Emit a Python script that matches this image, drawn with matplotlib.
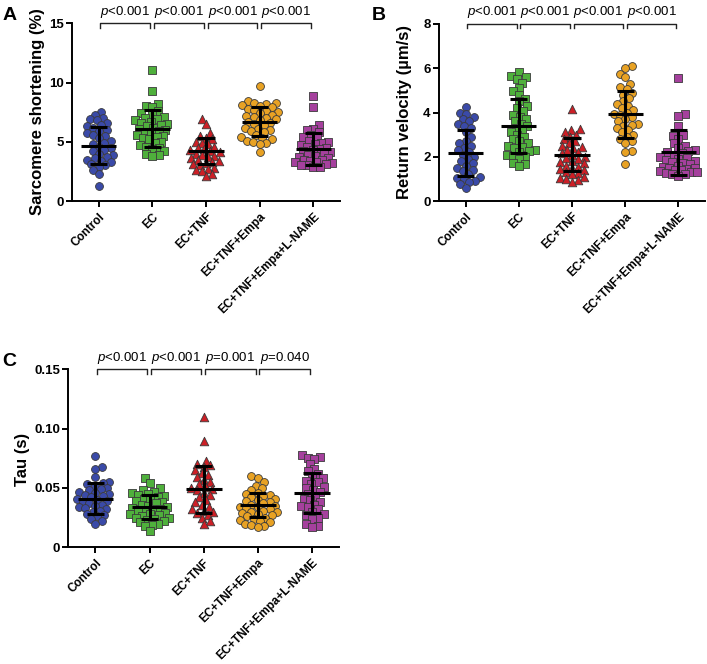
import numpy as np
import matplotlib
matplotlib.use("Agg")
import matplotlib.pyplot as plt

plt.rcParams['font.family'] = ['Liberation Sans', 'DejaVu Sans']
plt.rcParams['mathtext.fontset'] = 'custom'
plt.rcParams['mathtext.it'] = 'Liberation Sans:italic'
plt.rcParams['mathtext.rm'] = 'Liberation Sans'

categories = ["Control", "EC", "EC+TNF", "EC+TNF+Empa", "EC+TNF+Empa+L-NAME"]
colors = ["#3a4aa8", "#4fb03c", "#cc1f26", "#e8a224", "#a5409d"]
markers = ["o", "s", "^", "o", "s"]

# Panel A: sarcomere shortening (%)
A_control = [7.5, 7.3, 7.0, 6.9, 6.8, 6.6, 6.4, 6.3, 6.2, 6.0, 5.9, 5.7, 5.6, 5.5, 5.3, 5.1, 4.9, 4.8,
             4.6, 4.5, 4.3, 4.2, 4.0, 3.9, 3.7, 3.6, 3.5, 3.4, 3.3, 3.1, 3.0, 2.9, 2.6, 2.3, 1.3]
A_ec = [11.1, 9.3, 8.2, 8.0, 7.9, 7.6, 7.4, 7.3, 7.1, 7.0, 6.9, 6.8, 6.7, 6.6, 6.5, 6.4, 6.3, 6.2, 6.1,
        6.0, 5.9, 5.8, 5.7, 5.6, 5.5, 5.4, 5.3, 5.2, 5.0, 4.9, 4.7, 4.6, 4.5, 4.4, 4.2, 4.0, 3.9, 3.8]
A_tnf = [6.9, 6.5, 5.7, 5.5, 5.3, 5.2, 5.0, 4.9, 4.8, 4.6, 4.5, 4.4, 4.3, 4.2, 4.1, 4.0, 3.9, 3.8, 3.7,
         3.6, 3.5, 3.4, 3.3, 3.2, 3.1, 3.0, 2.8, 2.7, 2.6, 2.5, 2.3, 2.1]
A_empa = [9.7, 8.4, 8.3, 8.3, 8.2, 8.1, 8.0, 7.9, 7.8, 7.7, 7.6, 7.5, 7.4, 7.3, 7.2, 7.1, 7.0, 6.9, 6.8,
          6.7, 6.6, 6.5, 6.4, 6.2, 6.1, 6.0, 5.9, 5.8, 5.6, 5.4, 5.3, 5.2, 5.1, 5.0, 4.9, 4.8, 4.1]
A_lname = [8.9, 7.9, 6.4, 6.1, 6.0, 5.8, 5.6, 5.4, 5.3, 5.1, 5.0, 4.9, 4.8, 4.7, 4.6, 4.5, 4.4, 4.3, 4.2,
           4.1, 4.0, 3.9, 3.8, 3.7, 3.6, 3.5, 3.5, 3.4, 3.3, 3.3, 3.2, 3.1, 3.0, 3.0, 2.9, 2.9]
A_mean = [4.67, 6.10, 4.22, 6.69, 4.39]
A_sd = [1.58, 1.55, 1.11, 1.21, 1.35]
A_p = ["$\\it{p}$<0.001", "$\\it{p}$<0.001", "$\\it{p}$<0.001", "$\\it{p}$<0.001"]

# Panel B: return velocity (um/s)
B_control = [4.25, 4.0, 3.95, 3.8, 3.7, 3.6, 3.5, 3.4, 3.3, 3.1, 2.9, 2.7, 2.6, 2.5, 2.4, 2.3, 2.2, 2.1,
             2.0, 1.9, 1.8, 1.7, 1.6, 1.5, 1.4, 1.35, 1.2, 1.1, 1.05, 1.0, 0.9, 0.85, 0.75, 0.6]
B_ec = [5.85, 5.65, 5.6, 5.5, 5.35, 5.1, 4.95, 4.8, 4.6, 4.5, 4.3, 4.2, 4.05, 3.9, 3.8, 3.7, 3.6, 3.5,
        3.4, 3.3, 3.2, 3.1, 3.0, 2.9, 2.8, 2.7, 2.6, 2.5, 2.45, 2.4, 2.3, 2.25, 2.2, 2.1, 2.05, 2.0,
        1.9, 1.7, 1.65, 1.6]
B_tnf = [4.15, 3.25, 3.2, 3.1, 3.0, 2.9, 2.8, 2.7, 2.6, 2.5, 2.45, 2.4, 2.3, 2.2, 2.15, 2.1, 2.0, 1.95,
         1.9, 1.8, 1.75, 1.7, 1.6, 1.55, 1.5, 1.45, 1.4, 1.3, 1.25, 1.2, 1.1, 1.05, 1.0, 0.95, 0.85]
B_empa = [6.1, 6.0, 5.75, 5.6, 5.3, 5.15, 5.05, 4.9, 4.8, 4.65, 4.5, 4.4, 4.3, 4.2, 4.1, 4.0, 3.95, 3.9,
          3.8, 3.7, 3.6, 3.5, 3.45, 3.4, 3.3, 3.2, 3.1, 3.0, 2.9, 2.8, 2.7, 2.6, 2.25, 2.2, 1.65]
B_lname = [5.55, 3.95, 3.85, 3.4, 3.0, 2.95, 2.8, 2.6, 2.5, 2.4, 2.3, 2.25, 2.2, 2.15, 2.1, 2.0, 1.95,
           1.9, 1.85, 1.8, 1.75, 1.7, 1.65, 1.6, 1.55, 1.5, 1.5, 1.45, 1.4, 1.4, 1.35, 1.3, 1.3, 1.25,
           1.2, 1.2, 1.15]
B_mean = [2.16, 3.41, 2.10, 3.92, 2.20]
B_sd = [1.05, 1.22, 0.75, 1.07, 1.02]
B_p = ["$\\it{p}$<0.001", "$\\it{p}$<0.001", "$\\it{p}$<0.001", "$\\it{p}$<0.001"]

# Panel C: tau (s)
C_control = [0.077, 0.068, 0.066, 0.059, 0.055, 0.054, 0.053, 0.052, 0.050, 0.049, 0.048, 0.047, 0.046,
             0.045, 0.044, 0.043, 0.042, 0.041, 0.040, 0.039, 0.038, 0.037, 0.036, 0.035, 0.034, 0.033,
             0.032, 0.031, 0.030, 0.028, 0.027, 0.026, 0.024, 0.022, 0.020]
C_ec = [0.058, 0.054, 0.050, 0.048, 0.047, 0.046, 0.045, 0.044, 0.043, 0.042, 0.041, 0.040, 0.039,
        0.038, 0.037, 0.036, 0.035, 0.034, 0.033, 0.032, 0.032, 0.031, 0.030, 0.029, 0.028, 0.028,
        0.027, 0.026, 0.025, 0.025, 0.024, 0.023, 0.022, 0.021, 0.020, 0.019, 0.018, 0.014]
C_tnf = [0.110, 0.090, 0.073, 0.070, 0.069, 0.068, 0.065, 0.063, 0.061, 0.059, 0.057, 0.055, 0.053,
         0.051, 0.050, 0.049, 0.048, 0.046, 0.044, 0.042, 0.040, 0.038, 0.036, 0.034, 0.032, 0.031,
         0.030, 0.029, 0.027, 0.025, 0.022, 0.020]
C_empa = [0.060, 0.058, 0.055, 0.052, 0.050, 0.048, 0.046, 0.045, 0.044, 0.043, 0.042, 0.041, 0.040,
          0.039, 0.038, 0.037, 0.036, 0.035, 0.034, 0.034, 0.033, 0.032, 0.031, 0.030, 0.030, 0.029,
          0.028, 0.027, 0.026, 0.025, 0.024, 0.023, 0.022, 0.021, 0.020, 0.019, 0.018, 0.017]
C_lname = [0.078, 0.076, 0.075, 0.074, 0.070, 0.066, 0.064, 0.062, 0.060, 0.058, 0.056, 0.055, 0.053,
           0.051, 0.050, 0.048, 0.047, 0.045, 0.043, 0.041, 0.040, 0.038, 0.036, 0.035, 0.034, 0.032,
           0.030, 0.028, 0.027, 0.025, 0.024, 0.020, 0.018, 0.017]
C_mean = [0.0410, 0.0340, 0.0489, 0.0357, 0.0455]
C_sd = [0.0131, 0.0103, 0.0198, 0.0101, 0.0167]
C_p = ["$\\it{p}$<0.001", "$\\it{p}$<0.001", "$\\it{p}$=0.001", "$\\it{p}$=0.040"]

W, H = 707, 664
fig = plt.figure(figsize=(W / 100, H / 100), dpi=100)


def px_axes(l, t, r, b):
    return fig.add_axes([l / W, 1 - b / H, (r - l) / W, (b - t) / H])


def swarm_offsets(ypx, d=6.2, maxw=20.0):
    # simple beeswarm: each point goes to the free spot nearest the centre line
    order = np.argsort(ypx)
    placed_x, placed_y = [], []
    xs = np.zeros(len(ypx))
    step = 0.7
    cands = [0.0]
    k = 1
    while k * step <= maxw:
        cands += [k * step, -k * step] if k % 2 else [-k * step, k * step]
        k += 1
    for i in order:
        y = ypx[i]
        best, bestscore, bestc = None, -1, 0.0
        px_ = np.array(placed_x)
        py_ = np.array(placed_y)
        for c in cands:
            dist = np.min(np.hypot(px_ - c, py_ - y)) if len(px_) else 1e9
            if dist >= d:
                best = c
                break
            if dist > bestscore:
                bestscore, bestc = dist, c
        if best is None:
            best = bestc
        xs[i] = best
        placed_x.append(best)
        placed_y.append(y)
    return xs


def panel(ax, groups, means, sds, ylim, yticks, yticklabels, pvals):
    ax.set_xlim(-0.5, 4.5)
    ax.set_ylim(*ylim)
    for s in ["top", "right"]:
        ax.spines[s].set_visible(False)
    for s in ["left", "bottom"]:
        ax.spines[s].set_linewidth(1.4)
    ax.set_yticks(yticks)
    ax.set_yticklabels(yticklabels, fontsize=9.5, fontweight="bold")
    ax.set_xticks(range(len(categories)))
    ax.set_xticklabels(categories, rotation=45, ha="right", rotation_mode="anchor",
                       fontsize=8.5, fontweight="bold")
    ax.tick_params(axis="both", direction="out", length=4, width=1.4, pad=2)
    ax.tick_params(axis="x", pad=3)
    xppu = ax.transData.transform((1, 0))[0] - ax.transData.transform((0, 0))[0]
    for i, vals in enumerate(groups):
        vals = np.asarray(vals, dtype=float)
        ypx = ax.transData.transform(np.column_stack([np.zeros_like(vals), vals]))[:, 1]
        off = swarm_offsets(ypx) / xppu
        ax.scatter(i + off, vals, s=32 if markers[i] != "^" else 38, marker=markers[i],
                   facecolor=colors[i], edgecolor="#3a3a3a", linewidth=0.6, zorder=3, clip_on=False)
        m, sd = means[i], sds[i]
        ax.plot([i - 0.33, i + 0.33], [m, m], color="black", lw=2.2, zorder=4, solid_capstyle="butt")
        ax.plot([i, i], [m - sd, m + sd], color="black", lw=2.2, zorder=4)
        for yy in (m - sd, m + sd):
            ax.plot([i - 0.16, i + 0.16], [yy, yy], color="black", lw=2.2, zorder=4,
                    solid_capstyle="butt")
    tr = ax.get_xaxis_transform()
    for j, p in enumerate(pvals):
        x0, x1 = j + 0.03, j + 0.96
        ax.plot([x0, x0, x1, x1], [0.975, 1.0, 1.0, 0.975], color="#222222", lw=1.0,
                transform=tr, clip_on=False)
        ax.text((x0 + x1) / 2, 1.065, p, transform=tr, ha="center", va="center", fontsize=9.5)


axA = px_axes(72, 23.3, 340, 201)
panel(axA, [A_control, A_ec, A_tnf, A_empa, A_lname], A_mean, A_sd, (0, 15), [0, 5, 10, 15],
      ["0", "5", "10", "15"], A_p)
axB = px_axes(439, 24, 705, 201)
panel(axB, [B_control, B_ec, B_tnf, B_empa, B_lname], B_mean, B_sd, (0, 8), [0, 2, 4, 6, 8],
      ["0", "2", "4", "6", "8"], B_p)
axC = px_axes(68.3, 369.3, 339, 547.3)
panel(axC, [C_control, C_ec, C_tnf, C_empa, C_lname], C_mean, C_sd, (0, 0.15),
      [0, 0.05, 0.10, 0.15], ["0", "0.05", "0.10", "0.15"], C_p)


def ftext(x, y, s, **kw):
    fig.text(x / W, 1 - y / H, s, **kw)


ftext(38, 112, "Sarcomere shortening (%)", rotation=90, ha="center", va="center", fontsize=12,
      fontweight="bold")
ftext(404, 112, "Return velocity (µm/s)", rotation=90, ha="center", va="center", fontsize=12,
      fontweight="bold")
ftext(23, 459, "Tau (s)", rotation=90, ha="center", va="center", fontsize=12, fontweight="bold")
ftext(10, 16, "A", ha="center", va="center", fontsize=14, fontweight="bold")
ftext(379, 16, "B", ha="center", va="center", fontsize=14, fontweight="bold")
ftext(9, 361, "C", ha="center", va="center", fontsize=14, fontweight="bold")

fig.savefig("out.png", dpi=100)
